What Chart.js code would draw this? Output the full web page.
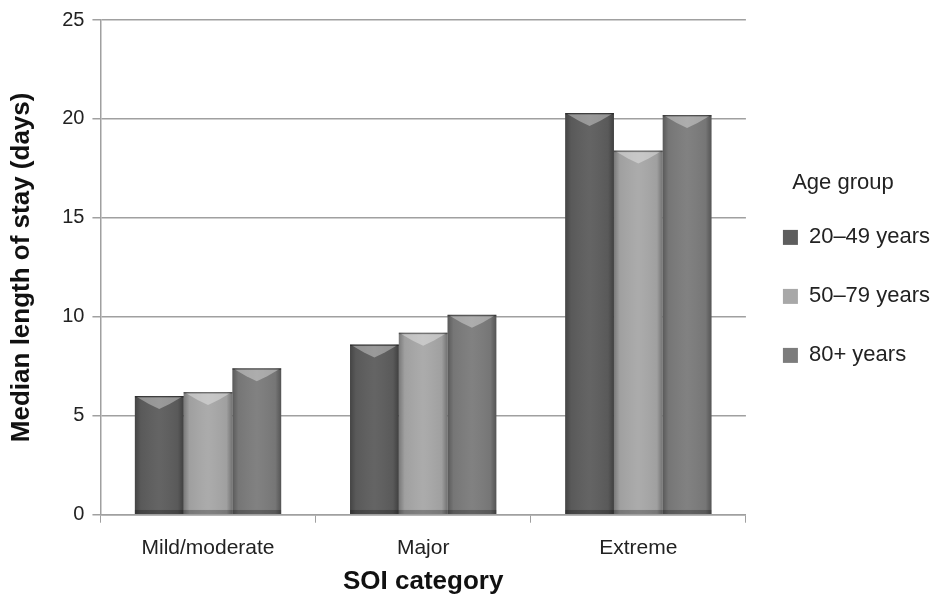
<!DOCTYPE html>
<html>
<head>
<meta charset="utf-8">
<script src="https://cdn.jsdelivr.net/npm/chart.js@4"></script>
<style>
html,body{margin:0;padding:0;background:#fff;}
#wrap{width:932px;height:604px;position:relative;}
</style>
</head>
<body>
<div id="wrap"><canvas id="c" width="932" height="604"></canvas></div>
<script>
const categories = ["Mild/moderate", "Major", "Extreme"];
const seriesNames = ["20\u201349 years", "50\u201379 years", "80+ years"];
const age20to49 = [6.0, 8.6, 20.3];
const age50to79 = [6.2, 9.2, 18.4];
const age80plus = [7.4, 10.1, 20.2];
const yTicks = [0, 5, 10, 15, 20, 25];

const colors = ["#5e5e5e", "#a8a8a8", "#7c7c7c"];
const FONT = 'Liberation Sans, Arial, sans-serif';

const bevelPlugin = {
  id: 'bevel',
  afterDatasetsDraw(chart) {
    const ctx = chart.ctx;
    chart.data.datasets.forEach((ds, di) => {
      const meta = chart.getDatasetMeta(di);
      meta.data.forEach(bar => {
        const l = bar.x - bar.width / 2, r = bar.x + bar.width / 2;
        const t = bar.y, b = bar.base, cx = bar.x;
        ctx.save();
        const g = ctx.createLinearGradient(l, 0, r, 0);
        g.addColorStop(0, 'rgba(0,0,0,0.28)');
        g.addColorStop(0.12, 'rgba(0,0,0,0.05)');
        g.addColorStop(0.5, 'rgba(255,255,255,0.04)');
        g.addColorStop(0.88, 'rgba(0,0,0,0.05)');
        g.addColorStop(1, 'rgba(0,0,0,0.32)');
        ctx.fillStyle = g;
        ctx.fillRect(l, t, r - l, b - t);
        ctx.beginPath();
        ctx.moveTo(l + 2, t + 1);
        ctx.lineTo(r - 2, t + 1);
        ctx.lineTo(r - 14, t + 8);
        ctx.lineTo(cx, t + 13);
        ctx.lineTo(l + 14, t + 8);
        ctx.closePath();
        ctx.fillStyle = 'rgba(255,255,255,0.35)';
        ctx.fill();
        ctx.fillStyle = 'rgba(0,0,0,0.35)';
        ctx.fillRect(l, t, r - l, 1.5);
        ctx.fillStyle = 'rgba(0,0,0,0.25)';
        ctx.fillRect(l, b - 4, r - l, 4);
        ctx.restore();
      });
    });
  }
};

new Chart(document.getElementById('c'), {
  type: 'bar',
  data: {
    labels: categories,
    datasets: [
      { label: seriesNames[0], data: age20to49, backgroundColor: colors[0] },
      { label: seriesNames[1], data: age50to79, backgroundColor: colors[1] },
      { label: seriesNames[2], data: age80plus, backgroundColor: colors[2] }
    ]
  },
  options: {
    responsive: false,
    animation: false,
    devicePixelRatio: 1,
    datasets: { bar: { categoryPercentage: 0.68, barPercentage: 1.0 } },
    layout: { padding: { top: 17, right: -8, left: 2, bottom: 15 } },
    plugins: {
      tooltip: { enabled: false },
      legend: {
        position: 'right',
        align: 'start',
        title: { display: true, text: 'Age group', color: '#222', font: { family: FONT, size: 22 }, padding: { top: 155, bottom: -9 } },
        labels: {
          color: '#222',
          font: { family: FONT, size: 22 },
          boxWidth: 15, boxHeight: 15,
          padding: 37
        }
      }
    },
    scales: {
      x: {
        grid: { display: true, drawOnChartArea: false, drawTicks: true, tickLength: 8, color: '#a0a0a0', offset: true },
        border: { color: '#a0a0a0', width: 1.5 },
        ticks: { color: '#222', font: { family: FONT, size: 21 }, padding: 13 },
        title: { display: true, text: 'SOI category', color: '#111', font: { family: FONT, size: 26, weight: 'bold', lineHeight: 0.58 }, padding: { top: 0, bottom: 0 } }
      },
      y: {
        min: 0, max: 25,
        afterBuildTicks: (axis) => { axis.ticks = yTicks.map(v => ({ value: v })); },
        grid: { color: '#a0a0a0', lineWidth: 1.5, tickLength: 8 },
        border: { color: '#a0a0a0', width: 1.5 },
        ticks: { color: '#222', font: { family: FONT, size: 20 }, padding: 8 },
        title: { display: true, text: 'Median length of stay (days)', color: '#111', font: { family: FONT, size: 26, weight: 'bold' }, padding: { bottom: 17 } }
      }
    }
  },
  plugins: [bevelPlugin]
});
</script>
</body>
</html>
